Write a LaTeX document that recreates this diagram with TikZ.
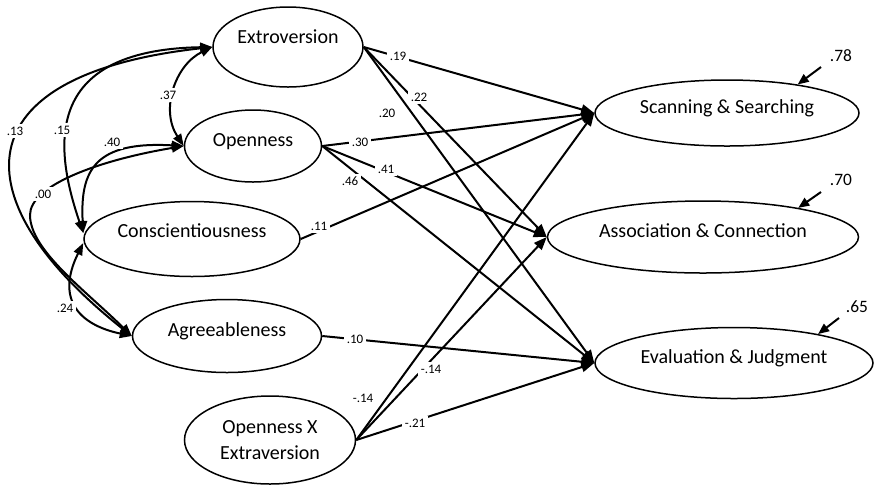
\documentclass[tikz,border=0pt]{standalone}
\usepackage{fontspec}
\setmainfont{Carlito}
\usetikzlibrary{arrows.meta,shapes.geometric}
\begin{document}
\begin{tikzpicture}[x=0.5pt,y=-0.5pt,
  ell/.style={draw, ellipse, line width=0.75pt, inner sep=0pt, font=\fontsize{10}{13}\selectfont},
  var/.style={ell, text height=0pt, text depth=0pt},
  pth/.style={line width=1pt, -{Triangle[length=6.5pt,width=5pt]}},
  cov/.style={line width=1pt, {Triangle[length=6pt,width=4.5pt]}-{Triangle[length=6pt,width=4.5pt]}},
  lab/.style={fill=white, inner sep=1.5pt, font=\fontsize{6.5}{7}\selectfont},
  rsq/.style={inner sep=1pt, font=\fontsize{8.7}{10}\selectfont},
  err/.style={line width=1pt, -{Triangle[length=5.5pt,width=4.5pt]}}
]
\useasboundingbox (0,0) rectangle (874,484);

% exogenous variables
\node[var, minimum width=75pt, minimum height=40pt, text depth=4pt] (ex) at (288,47) {Extroversion};
\node[var, minimum width=68.5pt, minimum height=36pt] (op) at (253,146) {Openness};
\node[var, minimum width=108pt, minimum height=37.5pt, text depth=2pt] (co) at (192,239) {Conscientiousness};
\node[var, minimum width=94.5pt, minimum height=36.5pt] (ag) at (227,336) {Agreeableness};
\node[ell, minimum width=85.5pt, minimum height=44pt, align=center] (ox) at (270,440) {Openness X\\Extraversion};

% outcomes
\node[var, minimum width=132pt, minimum height=33pt] (sc) at (727,113) {Scanning \& Searching};
\node[var, minimum width=155.5pt, minimum height=36pt] (as) at (703,237) {Association \& Connection};
\node[var, minimum width=139pt, minimum height=35.5pt] (ev) at (734,363) {Evaluation \& Judgment};

% paths
\draw[pth] (ex.east) -- (sc.west);
\draw[pth] (ex.east) -- (as.west);
\draw[pth] (ex.east) -- (ev.west);
\draw[pth] (op.east) -- (sc.west);
\draw[pth] (op.east) -- (as.west);
\draw[pth] (op.east) -- (ev.west);
\draw[pth] (co.east) -- (sc.west);
\draw[pth] (ag.east) -- (ev.west);
\draw[pth] (ox.east) -- (sc.west);
\draw[pth] (ox.east) -- (as.west);
\draw[pth] (ox.east) -- (ev.west);

% covariances
\draw[cov] (ex.west) .. controls (175,65) and (160,110) .. (op.west);
\draw[cov] (ex.west) .. controls (40,50) and (55,150) .. ([yshift=3pt]co.west);
\draw[cov] (ex.west) .. controls (-40,75) and (-40,200) .. (ag.west);
\draw[cov] ([yshift=3pt]co.west) .. controls (80,170) and (95,141) .. (op.west);
\draw[cov] (op.west) .. controls (100,160) and (30,185) .. (30,215) .. controls (30,250) and (85,290) .. (ag.west);
\draw[cov] ([yshift=-2pt]co.west) .. controls (55,300) and (80,325) .. (ag.west);

% path labels
\node[lab] (p19) at (398,56) {.19};
\node[lab] (p22) at (419,97) {.22};
\node[lab] (p20) at (387,113) {.20};
\node[lab] (p30) at (360,142) {.30};
\node[lab] (p41) at (386,169) {.41};
\node[lab] (p46) at (350,181) {.46};
\node[lab] (p11) at (319,226) {.11};
\node[lab] (p10) at (355,339) {.10};
\node[lab] (px1) at (363,398) {-.14};
\node[lab] (px2) at (431,369) {-.14};
\node[lab] (px3) at (415,423) {-.21};

% covariance labels
\node[lab] (c37) at (168,95) {.37};
\node[lab] (c15) at (62,130) {.15};
\node[lab] (c13) at (15,131) {.13};
\node[lab] (c40) at (112,142) {.40};
\node[lab] (c00) at (43,194) {.00};
\node[lab] (c24) at (65,308) {.24};

% explained variance
\node[rsq] (r1) at (841,56) {.78};
\node[rsq] (r2) at (841,180) {.70};
\node[rsq] (r3) at (857,307) {.65};
\coordinate (e1) at (821,67);
\coordinate (e2) at (821,192);
\coordinate (e3) at (839,318);
\draw[err] (e1) -- (sc.22);
\draw[err] (e2) -- (as.17);
\draw[err] (e3) -- (ev.19);
\end{tikzpicture}
\end{document}
